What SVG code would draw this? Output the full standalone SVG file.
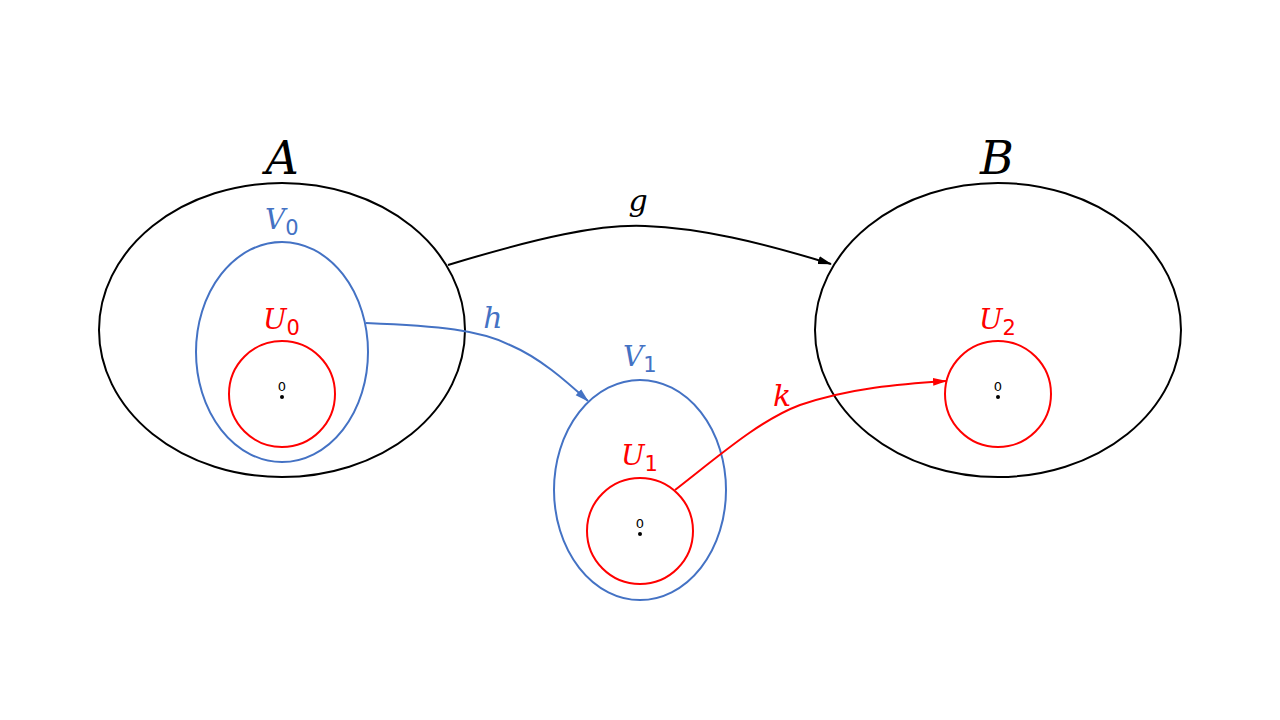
<svg xmlns="http://www.w3.org/2000/svg" width="1280" height="720" viewBox="0 0 1280 720">
<style>
.blk{fill:none;stroke:#000;stroke-width:2}
.blu{fill:none;stroke:#4472C4;stroke-width:2}
.red{fill:none;stroke:#FF0000;stroke-width:2}
.lbl{font-family:"DejaVu Serif","Liberation Serif",serif;font-style:italic}
.sub{font-family:"DejaVu Sans","Liberation Sans",sans-serif;font-style:normal}
.zero{font-family:"DejaVu Sans","Liberation Sans",sans-serif;font-size:13px;fill:#000}
</style>
<defs>
<marker id="mk" viewBox="0 0 14 10" refX="13" refY="5" markerWidth="14" markerHeight="10" markerUnits="userSpaceOnUse" orient="auto"><path d="M0,1 L14,5 L0,9 z" fill="#000"/></marker>
<marker id="mb" viewBox="0 0 14 10" refX="13" refY="5" markerWidth="14" markerHeight="10" markerUnits="userSpaceOnUse" orient="auto"><path d="M0,1 L14,5 L0,9 z" fill="#4472C4"/></marker>
<marker id="mr" viewBox="0 0 14 10" refX="13" refY="5" markerWidth="14" markerHeight="10" markerUnits="userSpaceOnUse" orient="auto"><path d="M0,1 L14,5 L0,9 z" fill="#FF0000"/></marker>
</defs>
<rect width="1280" height="720" fill="#fff"/>
<g id="A">
<ellipse class="blk" cx="282" cy="330" rx="183" ry="147"/>
<text class="lbl" x="282" y="174" font-size="46" text-anchor="middle">A</text>
</g>
<g id="V0">
<ellipse class="blu" cx="282" cy="352" rx="86" ry="110"/>
<text class="lbl" x="265" y="229" font-size="28" fill="#4472C4">V<tspan class="sub" font-size="21" dy="6">0</tspan></text>
</g>
<g id="U0">
<circle class="red" cx="282" cy="394" r="53"/>
<text class="lbl" x="263" y="329" font-size="28" fill="#FF0000">U<tspan class="sub" font-size="21" dy="6">0</tspan></text>
<text class="zero" x="282" y="391" text-anchor="middle">0</text>
<circle cx="282" cy="397" r="2" fill="#000"/>
</g>
<g id="B">
<ellipse class="blk" cx="998" cy="330" rx="183" ry="147"/>
<text class="lbl" x="997" y="174" font-size="46" text-anchor="middle">B</text>
</g>
<g id="U2">
<circle class="red" cx="998" cy="394" r="53"/>
<text class="lbl" x="979" y="329" font-size="28" fill="#FF0000">U<tspan class="sub" font-size="21" dy="6">2</tspan></text>
<text class="zero" x="998" y="391" text-anchor="middle">0</text>
<circle cx="998" cy="397" r="2" fill="#000"/>
</g>
<g id="V1">
<ellipse class="blu" cx="640" cy="490" rx="86" ry="110"/>
<text class="lbl" x="623" y="366" font-size="28" fill="#4472C4">V<tspan class="sub" font-size="21" dy="6">1</tspan></text>
</g>
<g id="U1">
<circle class="red" cx="640" cy="531" r="53"/>
<text class="lbl" x="621" y="465" font-size="28" fill="#FF0000">U<tspan class="sub" font-size="21" dy="6">1</tspan></text>
<text class="zero" x="640" y="528" text-anchor="middle">0</text>
<circle cx="640" cy="534" r="2" fill="#000"/>
</g>
<g id="connectors">
<path class="blk" d="M448,265 C540,237 600,224 645,226 C700,228 760,242 831,264" marker-end="url(#mk)"/>
<text class="lbl" x="638" y="211" font-size="30" text-anchor="middle">g</text>
<path class="blu" d="M366,323 C440,326 480,330 510,345 C540,358 565,380 588,401" marker-end="url(#mb)"/>
<text class="lbl" x="493" y="328" font-size="30" text-anchor="middle" fill="#4472C4">h</text>
<path class="red" d="M675,490 C720,455 760,420 800,405 C850,388 900,384 946,381" marker-end="url(#mr)"/>
<text class="lbl" x="782" y="406" font-size="30" text-anchor="middle" fill="#FF0000">k</text>
</g>
</svg>
